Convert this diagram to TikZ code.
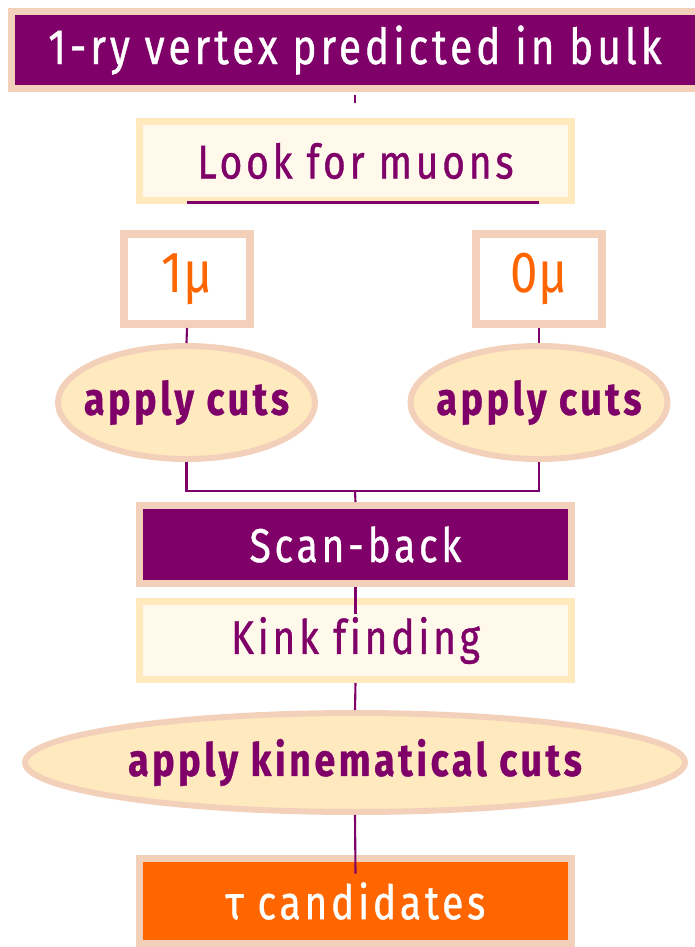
\documentclass[tikz,border=0pt]{standalone}
\usepackage{fontspec}
\setmainfont{Fira Sans}[FakeStretch=0.82, LetterSpace=8, FakeBold=0.8, Ligatures=NoCommon]
\newfontfamily\mufont{Fira Sans}[FakeStretch=0.85]
\usetikzlibrary{positioning,shapes.geometric}

\definecolor{plum}{HTML}{7F0068}
\definecolor{peach}{HTML}{F3D0BA}
\definecolor{cream}{HTML}{FFE9BD}
\definecolor{ivory}{HTML}{FEF9EB}
\definecolor{sand}{HTML}{FFEAC0}
\definecolor{tangerine}{HTML}{FF6600}

\tikzset{
  darkbox/.style={draw=peach, line width=0.14cm, fill=plum, text=white,
    minimum width=8.64cm, minimum height=1.56cm, inner sep=0pt},
  lightbox/.style={draw=cream, line width=0.14cm, fill=ivory, text=plum,
    minimum width=8.64cm, minimum height=1.58cm, inner sep=0pt},
  mubox/.style={draw=peach, line width=0.16cm, fill=white, text=tangerine,
    font=\fontsize{33}{38}\mufont, minimum width=2.52cm, minimum height=1.8cm, inner sep=0pt},
  cutell/.style={ellipse, draw=peach, line width=0.12cm, fill=sand, text=plum,
    font=\fontsize{26}{30}\selectfont\bfseries, inner ysep=0pt, inner xsep=-0.45cm,
    minimum width=5.14cm, minimum height=2.26cm},
  link/.style={draw=plum, line width=1.2pt}
}

\begin{document}
\begin{tikzpicture}[x=0.02cm, y=-0.02cm, font=\fontsize{27}{31}\selectfont]
      \useasboundingbox (0,0) rectangle (694,947);

      % Define the boxes of the chain
      \node[darkbox, minimum width=13.74cm, minimum height=1.54cm, font=\fontsize{28.2}{32}\selectfont] (top) at (355,50) {1-ry vertex predicted in bulk};
      \node[lightbox] (look) at (355.5,161) {Look for muons};
      \node[mubox] (m1) at (187,279) {1µ};
      \node[mubox] (m0) at (539,279) {0µ};
      \node[cutell] (c1) at (186.5,402.5) {apply cuts};
      \node[cutell] (c0) at (539,402.5) {apply cuts};
      \node[darkbox] (scan) at (355.5,544.5) {Scan-back};
      \node[lightbox, minimum height=1.56cm] (kink) at (355.5,640.5) {Kink finding};
      \node[cutell, inner xsep=0pt, minimum width=13.2cm, minimum height=1.98cm] (kin) at (355,762.5) {apply kinematical cuts};
      \node[darkbox, fill=tangerine, minimum height=1.7cm] (tau) at (355.5,901) {τ candidates};

      % Draw the connectors between the boxes
      \draw[link] ([yshift=-0.07cm]top.south) -- ([yshift=-0.23cm]top.south);
      \draw[link] ([yshift=0.03cm]look.south -| m1) -- ([yshift=0.03cm]look.south -| m0);
      \draw[link] (m1.south) -- (c1.north);
      \draw[link] (m0.south) -- (c0.north);
      \coordinate (join) at (355,491);
      \draw[link] (c1.south) |- (join) -| (c0.south);
      \draw[link] (join) -- (scan.north);
      \draw[link] (scan.south) -- ([yshift=-0.31cm]kink.north);
      \draw[link] (kink.south) -- (kin.north);
      \draw[link] (kin.south) -- ([yshift=-0.37cm]tau.north);
\end{tikzpicture}
\end{document}
